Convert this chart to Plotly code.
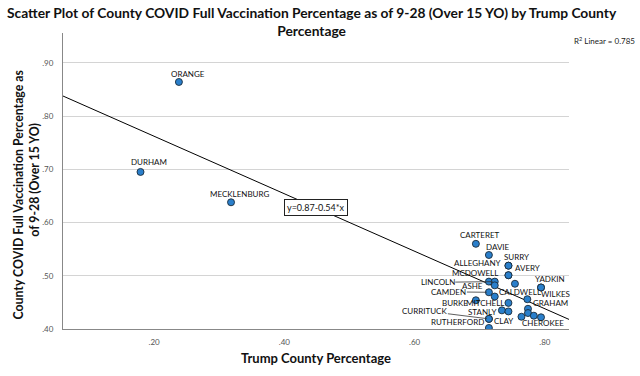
import plotly.graph_objects as go

# ---- data ----
county = ["ORANGE", "DURHAM", "MECKLENBURG", "CARTERET", "DAVIE", "SURRY", "ALLEGHANY",
          "AVERY", "MCDOWELL", "", "YADKIN", "WILKES", "ASHE", "LINCOLN", "", "CAMDEN", "",
          "BURKE", "MITCHELL", "CALDWELL", "STANLY", "", "GRAHAM", "", "", "", "CHEROKEE",
          "CLAY", "CURRITUCK", "RUTHERFORD"]
trump_pct = [0.238, 0.179, 0.318, 0.694, 0.714, 0.744, 0.744,
             0.744, 0.744, 0.754, 0.794, 0.794, 0.714, 0.723, 0.723, 0.714, 0.723,
             0.694, 0.744, 0.773, 0.734, 0.744, 0.774, 0.774, 0.783, 0.794, 0.764,
             0.714, 0.714, 0.714]
vax_pct = [0.864, 0.695, 0.638, 0.560, 0.539, 0.519, 0.519,
           0.501, 0.501, 0.485, 0.478, 0.478, 0.489, 0.489, 0.482, 0.469, 0.461,
           0.454, 0.449, 0.456, 0.435, 0.433, 0.438, 0.430, 0.425, 0.422, 0.423,
           0.419, 0.419, 0.402]

fit_intercept = 0.87
fit_slope = -0.54
r_squared = 0.785

x_tick_vals = [0.20, 0.40, 0.60, 0.80]
x_tick_text = [".20", ".40", ".60", ".80"]
y_tick_vals = [0.40, 0.50, 0.60, 0.70, 0.80, 0.90]
y_tick_text = [".40", ".50", ".60", ".70", ".80", ".90"]

X_RANGE = [0.060, 0.837]
Y_RANGE = [0.400, 0.956]

# label placement (pixel offsets from the point): anchor, dx, dy(down), leader
label_style = {
    "ORANGE": ("center", 9, -8, False),
    "DURHAM": ("center", 8.5, -9.6, False),
    "MECKLENBURG": ("center", 8.6, -8.4, False),
    "CARTERET": ("center", 4, -8.6, False),
    "DAVIE": ("center", 9, -8, False),
    "SURRY": ("center", 8.3, -8.3, False),
    "ALLEGHANY": ("right", -5, -2.7, False),
    "AVERY": ("left", 4.6, -7, False),
    "MCDOWELL": ("right", -8.7, -2.4, False),
    "YADKIN": ("center", 8.5, -8.4, False),
    "WILKES": ("left", -1.7, 7.0, False),
    "ASHE": ("right", -4.3, 4, False),
    "LINCOLN": ("center", -57, 0.7, True),
    "CAMDEN": ("center", -40, -0.4, True),
    "BURKE": ("right", -5.5, 2.6, False),
    "MITCHELL": ("right", -2.5, 0, False),
    "CALDWELL": ("center", -7.7, -7.6, False),
    "STANLY": ("right", -3.5, 1.6, False),
    "GRAHAM": ("left", 3.4, -5.5, False),
    "CHEROKEE": ("left", -1.7, 6.7, False),
    "CLAY": ("left", 3.4, 2.4, False),
    "CURRITUCK": ("center", -64, -8, True),
    "RUTHERFORD": ("right", -2.6, -5.6, False),
}

LABEL_FONT = dict(family="Lato, Liberation Sans, sans-serif", size=8, color="#111")
BOLD = "Lato, Liberation Sans, sans-serif"

fig = go.Figure()

# regression line
fit_x = X_RANGE
fit_y = [fit_intercept + fit_slope * v for v in fit_x]
fig.add_trace(go.Scatter(x=fit_x, y=fit_y, mode="lines",
                         line=dict(color="black", width=1), hoverinfo="skip",
                         showlegend=False))

# points
fig.add_trace(go.Scatter(x=trump_pct, y=vax_pct, mode="markers", text=county,
                         marker=dict(size=7, color="#2a7fcb",
                                     line=dict(color="#1b2b3a", width=0.9)),
                         showlegend=False))

annotations = []
for name, xv, yv in zip(county, trump_pct, vax_pct):
    if not name or name not in label_style:
        continue
    anchor, dx, dy, leader = label_style[name]
    if leader:
        annotations.append(dict(x=xv, y=yv, xref="x", yref="y", text=name,
                                showarrow=True, ax=dx, ay=dy, arrowhead=0,
                                arrowwidth=0.8, arrowcolor="#333", standoff=2,
                                font=LABEL_FONT, borderpad=0))
    else:
        annotations.append(dict(x=xv, y=yv, xref="x", yref="y", text=name,
                                showarrow=False, xanchor=anchor, yanchor="middle",
                                xshift=dx, yshift=-dy, font=LABEL_FONT))

# equation box on the line
eq_x = 0.448
annotations.append(dict(x=eq_x, y=fit_intercept + fit_slope * eq_x, xref="x", yref="y",
                        text=f"y={fit_intercept:.2f}{fit_slope:+.2f}*x".replace("+-", "-"),
                        showarrow=False, bgcolor="white", bordercolor="#222",
                        borderwidth=1, borderpad=2,
                        font=dict(family="Lato, Liberation Sans, sans-serif", size=9,
                                  color="#111")))

# R squared
annotations.append(dict(x=1.134, y=0.975, xref="paper", yref="paper",
                        text=f"R<sup>2</sup> Linear = {r_squared}", showarrow=False,
                        xanchor="right", yanchor="middle",
                        font=dict(family="Lato, Liberation Sans, sans-serif", size=8,
                                  color="#222")))

# title
annotations.append(dict(x=0.5, y=1.105, xref="paper", yref="paper",
                        xshift=-4,
                        text="<b>Scatter Plot of County COVID Full Vaccination Percentage as of 9-28 (Over 15 YO) by Trump County<br>Percentage</b>",
                        showarrow=False, xanchor="center", yanchor="top",
                        font=dict(family=BOLD, size=13.8, color="#111")))

# axis titles
annotations.append(dict(x=0.5, y=-0.098, xref="paper", yref="paper",
                        text="<b>Trump County Percentage</b>", showarrow=False,
                        xanchor="center", yanchor="middle",
                        font=dict(family=BOLD, size=13, color="#111")))
annotations.append(dict(x=-0.088, y=0.456, xref="paper", yref="paper",
                        text="<b>County COVID Full Vaccination Percentage as</b>",
                        showarrow=False, textangle=-90, xanchor="center", yanchor="middle",
                        font=dict(family=BOLD, size=12.3, color="#111")))
annotations.append(dict(x=-0.058, y=0.503, xref="paper", yref="paper",
                        text="<b>of 9-28 (Over 15 YO)</b>",
                        showarrow=False, textangle=-90, xanchor="center", yanchor="middle",
                        font=dict(family=BOLD, size=12.3, color="#111")))

fig.update_layout(
    width=640, height=376,
    margin=dict(l=63, r=71, t=33, b=47),
    paper_bgcolor="white", plot_bgcolor="white",
    annotations=annotations,
    xaxis=dict(range=X_RANGE, tickvals=x_tick_vals, ticktext=x_tick_text,
               showgrid=False, zeroline=False, showline=True, linecolor="#888",
               linewidth=1, ticks="outside", ticklen=5, tickcolor="rgba(0,0,0,0)",
               tickfont=dict(family="Lato, sans-serif", size=8, color="#555")),
    yaxis=dict(range=Y_RANGE, tickvals=y_tick_vals, ticktext=y_tick_text,
               showgrid=True, gridcolor="#d4d4d4", gridwidth=1, zeroline=False,
               showline=True, linecolor="#888", linewidth=1, ticks="outside",
               ticklen=7, tickcolor="rgba(0,0,0,0)",
               tickfont=dict(family="Lato, sans-serif", size=8, color="#555")),
)

fig.write_html("out.html", config={"displayModeBar": False},
               post_script="document.body.style.margin='0';document.body.style.overflow='hidden';")
